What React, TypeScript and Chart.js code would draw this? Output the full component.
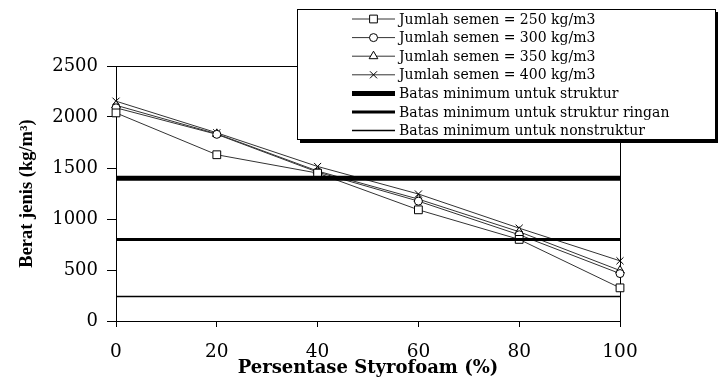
import React, { useEffect, useRef } from 'react';
import { Chart, registerables } from 'chart.js';

Chart.register(...registerables);

// ---- data ----
const styrofoamPct = [0, 20, 40, 60, 80, 100];
const semen250 = [2040, 1630, 1450, 1090, 800, 325];
const semen300 = [2090, 1830, 1460, 1175, 845, 465];
const semen350 = [2115, 1835, 1470, 1195, 875, 495];
const semen400 = [2155, 1845, 1515, 1245, 910, 590];
const seriesLabels = [
  'Jumlah semen = 250 kg/m3',
  'Jumlah semen = 300 kg/m3',
  'Jumlah semen = 350 kg/m3',
  'Jumlah semen = 400 kg/m3',
];
const limitLabels = [
  'Batas minimum untuk struktur',
  'Batas minimum untuk struktur ringan',
  'Batas minimum untuk nonstruktur',
];
const limitValues = [1400, 800, 240];
const xTickLabels = ['0', '20', '40', '60', '80', '100'];
const yTickLabels = ['0', '500', '1000', '1500', '2000', '2500'];
const xTitle = 'Persentase Styrofoam (%)';
const yTitle = 'Berat jenis (kg/m³)';

const markerStyles = ['rect', 'circle', 'triangle', 'crossRot'];
const markerRadii = [5.5, 4, 5, 5];
const limitWidths = [5, 3, 1.5];

function drawMarker(ctx: CanvasRenderingContext2D, style: string, x: number, y: number, r: number) {
  ctx.beginPath();
  if (style === 'rect') {
    const s = r * Math.SQRT1_2;
    ctx.rect(x - s, y - s, 2 * s, 2 * s);
    ctx.fill();
    ctx.stroke();
  } else if (style === 'circle') {
    ctx.arc(x, y, r, 0, Math.PI * 2);
    ctx.fill();
    ctx.stroke();
  } else if (style === 'triangle') {
    ctx.moveTo(x, y - r);
    ctx.lineTo(x + r * 0.866, y + r * 0.5);
    ctx.lineTo(x - r * 0.866, y + r * 0.5);
    ctx.closePath();
    ctx.fill();
    ctx.stroke();
  } else {
    const s = r * Math.SQRT1_2;
    ctx.moveTo(x - s, y - s);
    ctx.lineTo(x + s, y + s);
    ctx.moveTo(x + s, y - s);
    ctx.lineTo(x - s, y + s);
    ctx.stroke();
  }
}

const frameAndLegend = {
  id: 'frameAndLegend',
  beforeDatasetsDraw(chart: any) {
    const { ctx, chartArea } = chart;
    ctx.save();
    ctx.strokeStyle = '#000';
    ctx.lineWidth = 1;
    ctx.beginPath();
    ctx.moveTo(chartArea.left, Math.round(chartArea.top) + 0.5);
    ctx.lineTo(chartArea.right + 0.5, Math.round(chartArea.top) + 0.5);
    ctx.lineTo(chartArea.right + 0.5, chartArea.bottom);
    ctx.stroke();
    ctx.restore();
  },
  afterDraw(chart: any) {
    const { ctx } = chart;
    const bx = 297, by = 9, bw = 418, bh = 130;
    ctx.save();
    // shadow
    ctx.fillStyle = '#000';
    ctx.fillRect(bx + 3, by + bh, bw + 3, 4);
    ctx.fillRect(bx + bw, by + 3, 3, bh + 1);
    // box
    ctx.fillStyle = '#fff';
    ctx.fillRect(bx, by, bw, bh);
    ctx.strokeStyle = '#000';
    ctx.lineWidth = 1;
    ctx.strokeRect(bx + 0.5, by + 0.5, bw, bh);

    const ds = chart.data.datasets;
    const x0 = 352, x1 = 395, tx = 399;
    ctx.font = '14px "DejaVu Serif"';
    ctx.textBaseline = 'middle';
    ctx.textAlign = 'left';
    ds.forEach((d: any, i: number) => {
      const y = 19 + i * 18.6;
      ctx.strokeStyle = d.borderColor;
      ctx.lineWidth = d.borderWidth;
      ctx.beginPath();
      ctx.moveTo(x0, y);
      ctx.lineTo(x1, y);
      ctx.stroke();
      if (d.pointRadius > 0) {
        ctx.fillStyle = '#fff';
        ctx.strokeStyle = '#000';
        ctx.lineWidth = 1;
        drawMarker(ctx, d.pointStyle, (x0 + x1) / 2, y, d.pointRadius);
      }
      ctx.fillStyle = '#000';
      ctx.fillText(d.label, tx, y + 1);
    });
    ctx.restore();
  },
};

export default function App() {
  const ref = useRef<HTMLCanvasElement>(null);

  useEffect(() => {
    if (!ref.current) return;
    const seriesValues = [semen250, semen300, semen350, semen400];
    const seriesSets = seriesValues.map((vals, i) => ({
      label: seriesLabels[i],
      data: styrofoamPct.map((x, j) => ({ x, y: vals[j] })),
      borderColor: '#333',
      borderWidth: 1,
      pointStyle: markerStyles[i],
      pointRadius: markerRadii[i],
      pointBackgroundColor: '#fff',
      pointBorderColor: '#000',
      pointBorderWidth: 1,
      clip: false,
      order: 1,
    }));
    const limitSets = limitValues.map((v, i) => ({
      label: limitLabels[i],
      data: [
        { x: styrofoamPct[0], y: v },
        { x: styrofoamPct[styrofoamPct.length - 1], y: v },
      ],
      borderColor: '#000',
      borderWidth: limitWidths[i],
      pointRadius: 0,
      clip: false,
      order: 0,
    }));

    const chart = new Chart(ref.current, {
      type: 'line',
      data: { datasets: [...seriesSets, ...limitSets] as any },
      options: {
        animation: false,
        responsive: false,
        layout: { padding: { top: 66, right: 98, left: 0, bottom: 0 } },
        plugins: { legend: { display: false }, tooltip: { enabled: false } },
        scales: {
          x: {
            type: 'linear',
            min: 0,
            max: 100,
            afterFit: (s: any) => { s.height = 60; },
            ticks: {
              stepSize: 20,
              color: '#000',
              padding: 14,
              font: { family: '"DejaVu Serif"', size: 18.5 },
              callback: (v: any) => xTickLabels[styrofoamPct.indexOf(Number(v))] ?? '',
            },
            grid: { display: true, drawOnChartArea: false, drawTicks: true, tickLength: 6, color: '#000', lineWidth: 1 },
            border: { display: true, color: '#000', width: 1 },
            title: {
              display: true,
              text: xTitle,
              color: '#000',
              font: { family: '"DejaVu Serif"', size: 18, weight: 'bold', lineHeight: 1 },
              padding: { top: 0, bottom: 3.5 },
            },
          },
          y: {
            type: 'linear',
            min: 0,
            max: 2500,
            afterFit: (s: any) => { s.width = 116; },
            ticks: {
              stepSize: 500,
              color: '#000',
              padding: 9,
              font: { family: '"DejaVu Serif"', size: 18 },
              callback: (v: any) => yTickLabels[Math.round(Number(v) / 500)] ?? '',
            },
            grid: { display: true, drawOnChartArea: false, drawTicks: true, tickLength: 9, color: '#000', lineWidth: 1 },
            border: { display: true, color: '#000', width: 1 },
            title: {
              display: true,
              text: yTitle,
              color: '#000',
              font: { family: '"Liberation Serif"', size: 18.5, weight: 'bold', lineHeight: 1 },
              padding: { top: 18, bottom: 0 },
            },
          },
        },
      },
      plugins: [frameAndLegend],
    });
    return () => chart.destroy();
  }, []);

  return (
    <div style={{ position: 'absolute', left: 0, top: 0, width: 718, height: 381, background: '#fff' }}>
      <canvas ref={ref} width={718} height={381} style={{ display: 'block', width: 718, height: 381 }} />
    </div>
  );
}
